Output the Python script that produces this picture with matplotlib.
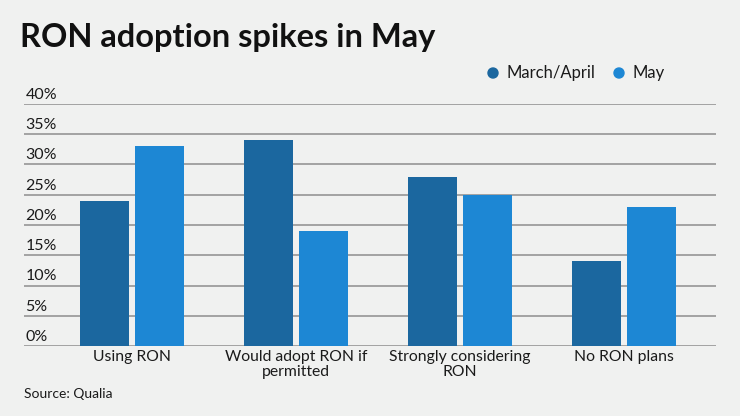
import numpy as np
import matplotlib
matplotlib.use("Agg")
import matplotlib.pyplot as plt

categories = ["Using RON", "Would adopt RON if\npermitted", "Strongly considering\nRON", "No RON plans"]
march_april = [24, 34, 28, 14]
may = [33, 19, 25, 23]
yticks = [0, 5, 10, 15, 20, 25, 30, 35, 40]

bg = "#f0f1f0"
dark = "#1b679f"
light = "#1d87d4"
plt.rcParams['font.family'] = ['Lato', 'DejaVu Sans']

fig = plt.figure(figsize=(7.4, 4.16), dpi=100, facecolor=bg)
ax = fig.add_axes([24/740, 1 - 346/416, 692/740, 242/416], facecolor=bg)

x = np.arange(len(categories))
w = 0.3
ax.bar(x - 0.168, march_april, w, color=dark, zorder=3)
ax.bar(x + 0.168, may, w, color=light, zorder=3)

ax.set_xlim(-108/164, 3 + 92/164)
ax.set_ylim(0, 40)

# gridlines + labels sitting above them
for t in yticks:
    ax.axhline(t, color="#9c9c9c", lw=1.3, zorder=1)
    ax.text(0.002, t + 0.35, f"{t}%", transform=ax.get_yaxis_transform(),
            ha="left", va="bottom", fontsize=11.5, color="#1a1a1a")

ax.set_yticks([])
ax.set_xticks(x)
ax.set_xticklabels(categories, fontsize=11.3, color="#1a1a1a", linespacing=1.05)
ax.tick_params(axis="x", length=0, pad=3)
for s in ax.spines.values():
    s.set_visible(False)

fig.text(20/740, 1 - 37/416, "RON adoption spikes in May", fontsize=23.5, fontweight="bold",
         color="#111111", va="center", ha="left")

# legend
fig.patches.append(matplotlib.patches.Ellipse((493/740, 1 - 73/416), 10/740, 10/416,
                                              transform=fig.transFigure, color=dark))
fig.text(507/740, 1 - 73/416, "March/April", fontsize=12, va="center", color="#1a1a1a")
fig.patches.append(matplotlib.patches.Ellipse((619/740, 1 - 73/416), 10/740, 10/416,
                                              transform=fig.transFigure, color=light))
fig.text(633/740, 1 - 73/416, "May", fontsize=12, va="center", color="#1a1a1a")

fig.text(24/740, 1 - 394/416, "Source: Qualia", fontsize=10, va="center", color="#1a1a1a")

fig.savefig("out.png", dpi=100, facecolor=bg)
